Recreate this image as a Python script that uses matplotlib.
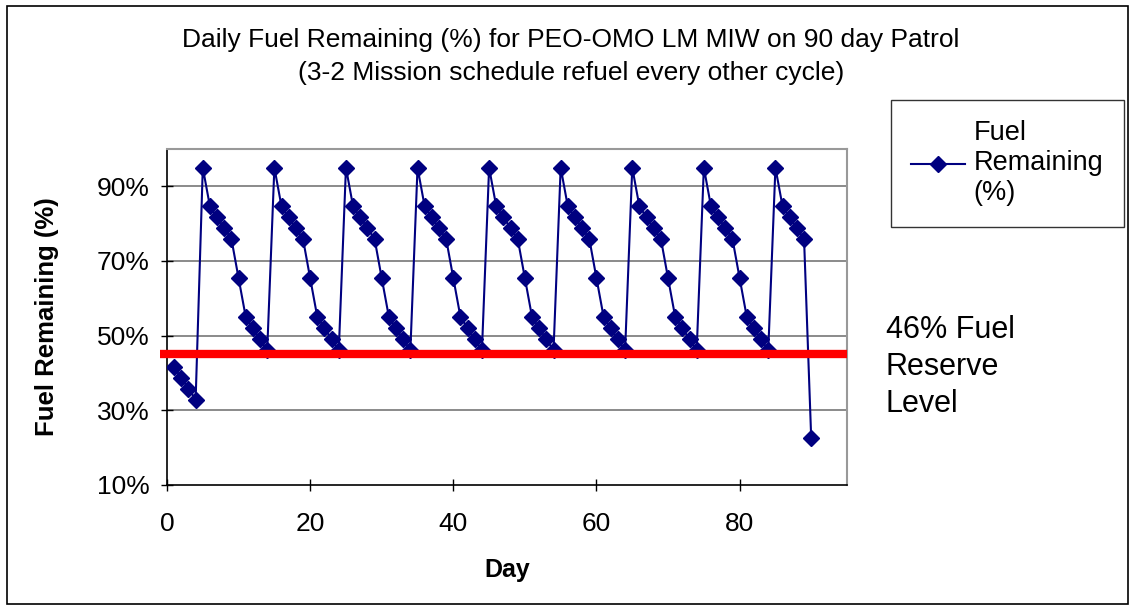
import matplotlib
matplotlib.use("Agg")
import matplotlib.pyplot as plt
from matplotlib.patches import Rectangle
import numpy as np

plt.rcParams["font.family"] = ["Liberation Sans", "DejaVu Sans"]

# fuel remaining (%) per day
day = np.arange(1, 91)
start_leg = [41.5, 38.7, 35.8, 32.9]
cycle = [95.0, 84.6, 81.7, 78.8, 75.9, 65.4, 55.0, 52.0, 49.0, 46.1]
last_leg = [95.0, 84.6, 81.7, 78.8, 75.9, 22.5]
fuel = np.array(start_leg + cycle * 8 + last_leg)

reserve = 45.0
yticks = [10, 30, 50, 70, 90]
xticks = [0, 20, 40, 60, 80]

W, H = 1135, 611
fig = plt.figure(figsize=(W / 100, H / 100), dpi=100)
fig.patch.set_facecolor("white")

# chart border
fig.patches.append(Rectangle((7 / W, 1 - 604 / H), 1121 / W, 598 / H,
	transform=fig.transFigure, fill=False, edgecolor="black", linewidth=1.2))

# plot area: x 167..847, y 149..485 (pixels)
ax = fig.add_axes([167 / W, 1 - 485 / H, 680 / W, 336 / H])
ax.set_xlim(0, 95)
ax.set_ylim(10, 100)

for y in yticks[1:]:
	ax.axhline(y, color="#777777", linewidth=1.2, zorder=1)

ax.plot(day, fuel, color="#000080", linewidth=1.5, marker="D", markersize=8,
	markeredgecolor="#000080", markerfacecolor="#000080", zorder=3,
	label="Fuel\nRemaining\n(%)")

# reserve level line
ax.plot([-1, 95], [reserve, reserve], color="red", linewidth=6, zorder=4,
	clip_on=False, solid_capstyle="butt")

ax.set_xticks(xticks)
ax.set_yticks(yticks)
ax.set_yticklabels([f"{v}%" for v in yticks])
ax.tick_params(direction="inout", length=9, width=1, labelsize=19, pad=8)
ax.tick_params(axis="x", pad=15)

for s in ["left", "bottom"]:
	ax.spines[s].set_color("black")
	ax.spines[s].set_linewidth(1.2)
for s in ["top", "right"]:
	ax.spines[s].set_color("#999999")
	ax.spines[s].set_linewidth(1.5)

ax.set_xlabel("Day", fontsize=18, fontweight="bold", labelpad=16)
ax.set_ylabel("Fuel Remaining (%)", fontsize=18.5, fontweight="bold", labelpad=27)

fig.text(571 / W, 1 - 40 / H,
	"Daily Fuel Remaining (%) for PEO-OMO LM MIW on 90 day Patrol",
	ha="center", va="center", fontsize=19)
fig.text(571 / W, 1 - 73 / H,
	"(3-2 Mission schedule refuel every other cycle)",
	ha="center", va="center", fontsize=19)

leg = ax.legend(loc="upper left", bbox_to_anchor=(891 / W, 1 - 100 / H),
	bbox_transform=fig.transFigure, fontsize=19.5, frameon=True, fancybox=False,
	handlelength=2.0, handletextpad=0.3, borderpad=0.75, borderaxespad=0,
	labelspacing=0.1)
leg.get_frame().set_edgecolor("black")
leg.get_frame().set_linewidth(1)

fig.text(886 / W, 1 - 367 / H, "46% Fuel\nReserve\nLevel", ha="left",
	va="center", fontsize=22, linespacing=1.3)

fig.savefig("out.png", dpi=100)
